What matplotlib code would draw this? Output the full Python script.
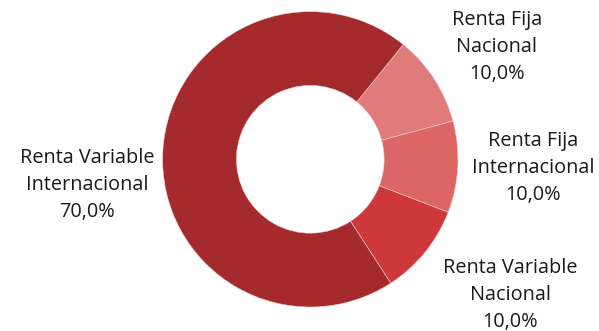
import matplotlib
matplotlib.use("Agg")
import matplotlib.pyplot as plt

categories = ["Renta Fija\nNacional", "Renta Fija\nInternacional",
              "Renta Variable\nNacional", "Renta Variable\nInternacional"]
values = [10.0, 10.0, 10.0, 70.0]

colors = ["#E07B7B", "#DC6666", "#CD393B", "#A52A2D"]
# label centres in pixel coords (x, y from top)
label_pos = [(497, 47), (533, 168), (510, 295), (87, 185)]

W, H = 599, 331
fig = plt.figure(figsize=(W / 100, H / 100), dpi=100)
ax = fig.add_axes([0, 0, 1, 1])
cx, cy, R = 310.3, H - 159.3, 147.7
ax.pie(values, colors=colors, startangle=51, counterclock=False,
       center=(cx, cy), radius=R,
       wedgeprops=dict(width=R * 0.5, edgecolor="#f0d0d0", linewidth=0.4))
ax.set_xlim(0, W)
ax.set_ylim(0, H)
ax.set_aspect("equal")
ax.axis("off")

for cat, v, (lx, ly) in zip(categories, values, label_pos):
    pct = f"{v:.1f}".replace(".", ",") + "%"
    ax.text(lx, H - ly, cat + "\n" + pct, ha="center", va="center",
            fontsize=14.3, family="Open Sans", linespacing=1.45, color="#1a1a1a")

fig.savefig("out.png", dpi=100)
